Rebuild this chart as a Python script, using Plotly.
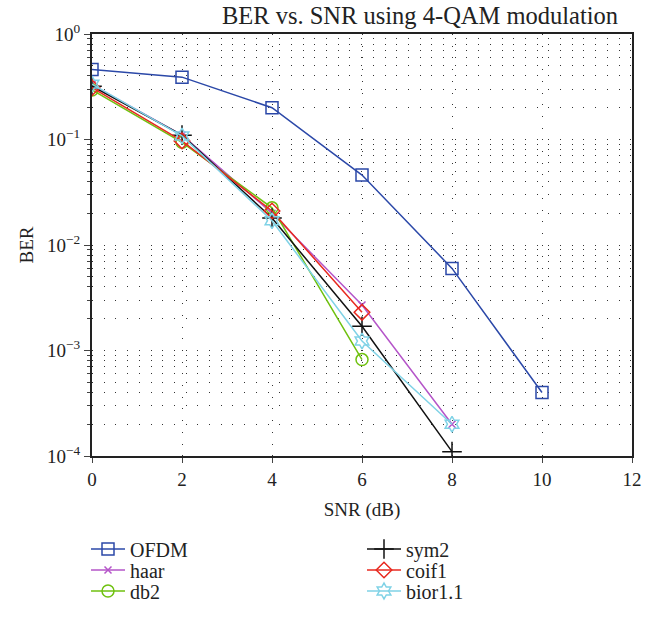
import plotly.graph_objects as go

snr_ofdm = [0, 2, 4, 6, 8, 10]
ber_ofdm = [0.46, 0.39, 0.20, 0.046, 0.006, 0.0004]

snr_w = [0, 2, 4, 6, 8]
ber_haar = [0.33, 0.11, 0.020, 0.0027, 0.0002]
ber_sym2 = [0.32, 0.11, 0.018, 0.0017, 0.00011]
ber_coif1 = [0.31, 0.097, 0.021, 0.0023]
ber_db2 = [0.295, 0.094, 0.0225, 0.00082]
ber_bior = [0.335, 0.108, 0.0170, 0.00123, 0.0002]

font_family = "'Liberation Serif', 'Times New Roman', serif"

fig = go.Figure()

def add(x, y, name, color, symbol, size, rank, leg, mlw=1.5):
    fig.add_trace(go.Scatter(
        x=x, y=y, name=name, mode="lines+markers",
        line=dict(color=color, width=1.5),
        marker=dict(symbol=symbol, size=size, color=color,
                    line=dict(color=color, width=mlw)),
        legendrank=rank, legend=leg,
    ))

add(snr_ofdm, ber_ofdm, "OFDM", "#2b48a8", "square-open", 12, 1, "legend")
add(snr_w, ber_haar, "haar", "#b555c9", "x-thin", 7, 1, "legend2")
add(snr_w[:4], ber_db2, "db2", "#6fc10f", "circle-open", 12, 1, "legend3")
add(snr_w, ber_sym2, "sym2", "#111111", "cross-thin", 14, 2, "legend")
add(snr_w[:4], ber_coif1, "coif1", "#e8291f", "diamond-open", 12, 2, "legend2")
add(snr_w, ber_bior, "bior1.1", "#7fd2e6", "hexagram-open", 12, 2, "legend3")

yticks = [1e-4, 1e-3, 1e-2, 1e-1, 1]
ytext = ["10<sup>−4</sup>", "10<sup>−3</sup>", "10<sup>−2</sup>", "10<sup>−1</sup>", "10<sup>0</sup>"]
xticks = [0, 2, 4, 6, 8, 10, 12]

dots = "1px,10.7px"
plot_h = 422.0
plot_w = 540.0

def legend_row(center_px):
    return dict(orientation="h", x=(86 - 92) / plot_w, xanchor="left",
                y=(456 - center_px) / plot_h, yanchor="middle",
                entrywidth=227, entrywidthmode="pixels", traceorder="normal",
                font=dict(size=20, family=font_family, color="#222"), itemwidth=34,
                tracegroupgap=0, bgcolor="rgba(0,0,0,0)")

fig.update_layout(
    width=652, height=624,
    margin=dict(l=92, r=20, t=34, b=168, autoexpand=False),
    paper_bgcolor="white", plot_bgcolor="white",
    font=dict(family=font_family, size=19, color="#222"),
    title=dict(text="BER vs. SNR using 4-QAM modulation", x=420 / 652, xanchor="center",
               y=1 - 15 / 624, yanchor="middle", font=dict(size=24.5, family=font_family)),
    xaxis=dict(range=[0, 12], tickvals=xticks, ticks="outside", ticklen=5,
               showline=True, linecolor="#222", linewidth=2, mirror=True,
               showgrid=True, gridcolor="#333", griddash=dots, gridwidth=1.3,
               zeroline=False, tickfont=dict(size=19),
               title=dict(text="SNR (dB)", standoff=14, font=dict(size=19))),
    yaxis=dict(type="log", range=[-4, 0], tickvals=yticks, ticktext=ytext,
               ticks="outside", ticklen=6, tickfont=dict(size=19),
               showline=True, linecolor="#222", linewidth=2, mirror=True,
               showgrid=True, gridcolor="#333", griddash=dots, gridwidth=1.3,
               minor=dict(ticks="outside", ticklen=3, showgrid=True, gridcolor="#333",
                          griddash=dots, gridwidth=1.3, dtick="D1"),
               title=dict(text="BER", standoff=8, font=dict(size=19))),
    legend=legend_row(549),
    legend2=legend_row(570),
    legend3=legend_row(591),
    showlegend=True,
)

fig.write_html("out.html", config={"displayModeBar": False},
               post_script="document.body.style.margin='0';document.body.style.padding='0';")
